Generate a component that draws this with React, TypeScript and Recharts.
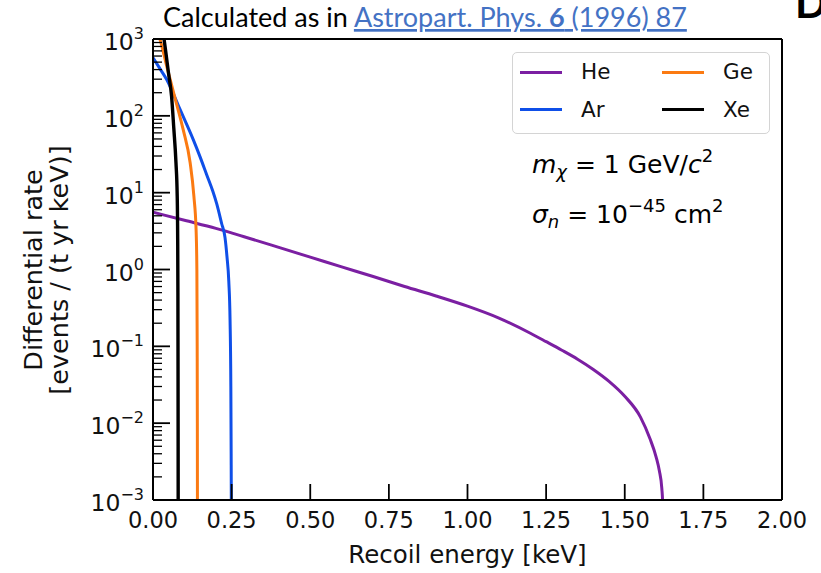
import React from 'react';
import { LineChart, Line, XAxis, YAxis, Legend } from 'recharts';

// ---- data ----
const heEnergy = [0, 0.1, 0.2, 0.3, 0.4, 0.5, 0.6, 0.7, 0.8, 0.9, 1.0, 1.1, 1.2, 1.25, 1.3, 1.35, 1.4, 1.45, 1.5, 1.55, 1.58, 1.6, 1.61, 1.618, 1.622, 1.624];
const heRate = [5.57, 4.37, 3.43, 2.59, 1.94, 1.45, 1.08, 0.81, 0.6, 0.452, 0.333, 0.233, 0.148, 0.115, 0.089, 0.068, 0.05, 0.035, 0.0224, 0.012, 0.0063, 0.0036, 0.0024, 0.0014, 0.00063, 0.00001];

const arEnergy = [0, 0.02, 0.0435, 0.086, 0.128, 0.15, 0.171, 0.19, 0.2025, 0.218, 0.229, 0.235, 0.241, 0.245, 0.2475, 0.2485, 0.249, 0.2495];
const arRate = [570, 424, 297, 121, 49, 29, 17, 10.5, 7.2, 4.0, 2.6, 1.5, 0.7, 0.22, 0.03, 0.004, 0.0008, 0.00001];

const geEnergy = [0, 0.022, 0.045, 0.07, 0.096, 0.118, 0.13, 0.137, 0.1395, 0.1405, 0.141, 0.1413, 0.1418];
const geRate = [1700, 1000, 420, 170, 66, 24.7, 9, 3.3, 1.0, 0.1, 0.01, 0.0008, 0.00001];

const xeEnergy = [0, 0.035, 0.05, 0.059, 0.066, 0.073, 0.077, 0.0785, 0.0792, 0.0796, 0.0799, 0.0801, 0.0805];
const xeRate = [5000, 1000, 343, 180, 70, 24.7, 9, 2.5, 0.5, 0.05, 0.005, 0.0008, 0.00001];

const seriesNames = ['He', 'Ar', 'Ge', 'Xe'];
const seriesColors = ['#7b1fa2', '#0f4fe8', '#fb7a12', '#000000'];

const xTicks = [0, 0.25, 0.5, 0.75, 1.0, 1.25, 1.5, 1.75, 2.0];
const yMajorTicks = [1e-3, 1e-2, 1e-1, 1, 10, 100, 1000];
const yTickExponents = ['−3', '−2', '−1', '0', '1', '2', '3'];

// ---- helpers ----
const toData = (xs: number[], ys: number[]) => xs.map((e, i) => ({ e, rate: ys[i] }));
const seriesData = [
  toData(heEnergy, heRate),
  toData(arEnergy, arRate),
  toData(geEnergy, geRate),
  toData(xeEnergy, xeRate),
];

const yTicks: number[] = [];
yMajorTicks.forEach((m, i) => {
  yTicks.push(m);
  if (i < yMajorTicks.length - 1) {
    for (let k = 2; k <= 9; k++) yTicks.push(+(m * k).toPrecision(6));
  }
});

const FONT = 'DejaVu Sans';
const TXT = '#111';

const XTick = (props: any) => {
  const { x, y, payload } = props;
  return (
    <g>
      <line x1={x} x2={x} y1={y} y2={y - 16} stroke="#000" strokeWidth={1.8} />
      <text x={x} y={y + 28} textAnchor="middle" fontSize={22.5} fontFamily={FONT} fill={TXT}>
        {Number(payload.value).toFixed(2)}
      </text>
    </g>
  );
};

const YTick = (props: any) => {
  const { x, y, payload } = props;
  const v = Number(payload.value);
  const lg = Math.log10(v);
  const isMajor = Math.abs(lg - Math.round(lg)) < 1e-6;
  if (!isMajor) {
    return <line x1={x} x2={x + 9} y1={y} y2={y} stroke="#000" strokeWidth={1.3} />;
  }
  const idx = yMajorTicks.findIndex((m) => Math.abs(Math.log10(m) - lg) < 1e-6);
  return (
    <g>
      <line x1={x} x2={x + 17} y1={y} y2={y} stroke="#000" strokeWidth={1.8} />
      <text x={x - 9} y={y + 11} textAnchor="end" fontSize={23.5} fontFamily={FONT} fill={TXT}>
        10
        <tspan fontSize={16} dy={-11}>{yTickExponents[idx]}</tspan>
      </text>
    </g>
  );
};

const renderLegend = (props: any) => {
  const raw = (props.payload || []) as any[];
  const payload = seriesNames
    .map((n) => raw.find((p) => p.value === n))
    .filter(Boolean) as any[];
  return (
    <div
      style={{
        width: 258,
        height: 82,
        boxSizing: 'border-box',
        border: '1.5px solid #d4d4d4',
        borderRadius: 5,
        background: '#fff',
        position: 'relative',
      }}
    >
      {payload.map((p, i) => {
        const col = Math.floor(i / 2);
        const row = i % 2;
        return (
          <div
            key={p.value}
            style={{ position: 'absolute', left: 7 + col * 142, top: 19 + row * 37.7 - 14, height: 28, display: 'flex', alignItems: 'center' }}
          >
            <div style={{ width: 42, height: 3, background: p.color }} />
            <span style={{ marginLeft: 19, fontFamily: FONT, fontSize: 21.5, color: TXT, lineHeight: '28px' }}>{p.value}</span>
          </div>
        );
      })}
    </div>
  );
};

export default function App() {
  return (
    <div style={{ position: 'absolute', left: 0, top: 0, width: 821, height: 573, background: '#fff' }}>
      <LineChart width={821} height={573} margin={{ top: 38, right: 38, bottom: 72, left: 152 }}>
        <XAxis
          xAxisId="x"
          dataKey="e"
          type="number"
          domain={[0, 2]}
          ticks={xTicks}
          interval={0}
          height={1}
          tickSize={0}
          tickMargin={0}
          tickLine={false}
          allowDataOverflow
          axisLine={{ stroke: '#000', strokeWidth: 2 }}
          tick={XTick}
        />
        <XAxis
          xAxisId="top"
          orientation="top"
          type="number"
          domain={[0, 2]}
          height={1}
          tick={false}
          tickLine={false}
          axisLine={{ stroke: '#000', strokeWidth: 2 }}
        />
        <YAxis
          yAxisId="y"
          type="number"
          scale="log"
          domain={[1e-3, 1e3]}
          ticks={yTicks}
          interval={0}
          width={1}
          tickSize={0}
          tickMargin={0}
          tickLine={false}
          allowDataOverflow
          axisLine={{ stroke: '#000', strokeWidth: 2 }}
          tick={YTick}
        />
        <YAxis
          yAxisId="right"
          orientation="right"
          type="number"
          domain={[0, 1]}
          width={1}
          tick={false}
          tickLine={false}
          axisLine={{ stroke: '#000', strokeWidth: 2 }}
        />
        {seriesData.map((d, i) => (
          <Line
            key={seriesNames[i]}
            xAxisId="x"
            yAxisId="y"
            data={d}
            dataKey="rate"
            name={seriesNames[i]}
            stroke={seriesColors[i]}
            strokeWidth={i === 3 ? 3.4 : 3}
            type="monotone"
            dot={false}
            activeDot={false}
            isAnimationActive={false}
          />
        ))}
        <Legend
          layout="horizontal"
          verticalAlign="middle"
          align="center"
          wrapperStyle={{ left: 512, top: 52, width: 258, height: 82 }}
          content={renderLegend}
        />
      </LineChart>
      <svg width={821} height={573} style={{ position: 'absolute', left: 0, top: 0, pointerEvents: 'none' }}>
        <text x={163} y={27} fontFamily="Lato" fontSize={27} fill="#000">
          Calculated as in{' '}
          <tspan fill="#4472c4" style={{ textDecoration: 'underline' }}>
            Astropart. Phys. <tspan fontWeight="bold">6</tspan> (1996) 87
          </tspan>
        </text>
        <text x={795} y={18} fontFamily="Lato" fontWeight="bold" fontSize={42} fill="#000">D</text>
        <text x={42} y={270} transform="rotate(-90, 42, 270)" textAnchor="middle" fontFamily={FONT} fontSize={25.5} fill={TXT}>
          Differential rate
        </text>
        <text x={68} y={270} transform="rotate(-90, 68, 270)" textAnchor="middle" fontFamily={FONT} fontSize={25.5} fill={TXT}>
          [events / (t yr keV)]
        </text>
        <text x={467.5} y={563} textAnchor="middle" fontFamily={FONT} fontSize={24.5} fill={TXT}>
          Recoil energy [keV]
        </text>
        <text x={532} y={173} fontFamily={FONT} fontSize={25} fill="#000">
          <tspan fontStyle="italic">m</tspan>
          <tspan fontStyle="italic" fontSize={18} dy={5}>χ</tspan>
          <tspan dy={-5}> = 1 GeV/</tspan>
          <tspan fontStyle="italic">c</tspan>
          <tspan fontSize={18} dy={-11}>2</tspan>
        </text>
        <text x={532} y={223} fontFamily={FONT} fontSize={25} fill="#000">
          <tspan fontStyle="italic">σ</tspan>
          <tspan fontStyle="italic" fontSize={18} dy={5}>n</tspan>
          <tspan dy={-5}> = 10</tspan>
          <tspan fontSize={18} dy={-11}>−45</tspan>
          <tspan dy={11}> cm</tspan>
          <tspan fontSize={18} dy={-11}>2</tspan>
        </text>
      </svg>
    </div>
  );
}
